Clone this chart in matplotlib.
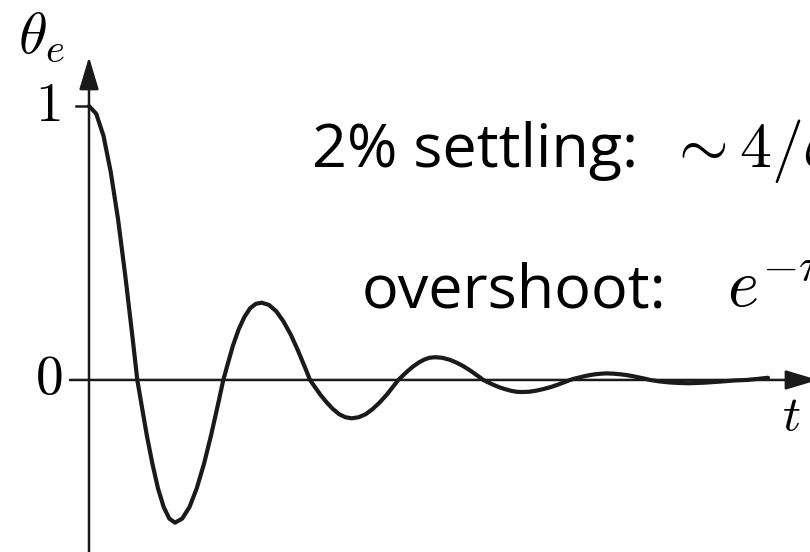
import matplotlib
matplotlib.use("Agg")
import matplotlib.pyplot as plt

plt.rcParams['mathtext.fontset'] = 'cm'
plt.rcParams['font.family'] = ['Open Sans', 'DejaVu Sans']

# damped response (t in arbitrary time units)
t = [0.0, 0.072, 0.145, 0.217, 0.290, 0.362, 0.435, 0.483,
     0.521, 0.577, 0.634, 0.690, 0.747, 0.803, 0.86,
     0.932, 1.005, 1.077, 1.150, 1.222, 1.295, 1.343,
     1.381, 1.439, 1.497, 1.554, 1.612, 1.669, 1.727,
     1.799, 1.872, 1.944, 2.017, 2.089, 2.162, 2.21,
     2.252, 2.314, 2.377, 2.439, 2.502, 2.564, 2.627,
     2.697, 2.767, 2.837, 2.907, 2.977, 3.046, 3.093,
     3.130, 3.185, 3.240, 3.295, 3.350, 3.405, 3.46,
     3.532, 3.605, 3.677, 3.750, 3.822, 3.895, 3.943,
     3.982, 4.040, 4.098, 4.156, 4.214, 4.272, 4.33,
     4.402, 4.474, 4.546, 4.618, 4.690, 4.762, 4.81,
     4.847, 4.902, 4.957, 5.012, 5.067, 5.122, 5.177,
     5.242, 5.307, 5.372, 5.437, 5.502, 5.567, 5.61,
     5.70, 5.80, 5.90, 6.0, 6.15, 6.31, 6.45, 6.577, 6.69, 6.79]
theta = [1.0, 0.972, 0.891, 0.760, 0.588, 0.383, 0.156, 0.0,
         -0.081, -0.200, -0.306, -0.396, -0.464, -0.506, -0.521,
         -0.506, -0.464, -0.396, -0.306, -0.200, -0.081, 0.0,
         0.050, 0.125, 0.185, 0.230, 0.262, 0.278, 0.282,
         0.274, 0.251, 0.214, 0.166, 0.108, 0.044, 0.0,
         -0.022, -0.054, -0.082, -0.106, -0.125, -0.136, -0.140,
         -0.136, -0.125, -0.106, -0.082, -0.054, -0.022, 0.0,
         0.013, 0.032, 0.049, 0.063, 0.074, 0.081, 0.083,
         0.081, 0.074, 0.063, 0.049, 0.032, 0.013, 0.0,
         -0.007, -0.017, -0.026, -0.033, -0.039, -0.043, -0.044,
         -0.043, -0.039, -0.033, -0.026, -0.017, -0.007, 0.0,
         0.004, 0.009, 0.014, 0.018, 0.021, 0.023, 0.024,
         0.023, 0.021, 0.018, 0.014, 0.009, 0.004, 0.0,
         -0.005, -0.009, -0.011, -0.012, -0.010, -0.006, -0.002, 0.0, 0.004, 0.008]

fig = plt.figure(figsize=(8.1, 5.52), dpi=100)
ax = fig.add_axes([0, 0, 1, 1])
ax.set_xlim(-0.89, 7.21)
ax.set_ylim(-0.628, 1.387)
ax.axis('off')

# axes with arrow heads
arrow = dict(arrowstyle='-|>,head_length=2.0,head_width=0.6', color='#1a1a1a',
             lw=1.8, mutation_scale=10, shrinkA=0, shrinkB=0)
ax.annotate('', xy=(7.29, 0), xytext=(-0.19, 0), arrowprops=arrow,
            annotation_clip=False)
ax.annotate('', xy=(0, 1.179), xytext=(0, -0.7), arrowprops=arrow,
            annotation_clip=False)
ax.plot([-0.13, 0], [1, 1], color='#1a1a1a', lw=1.8)

ax.plot(t, theta, color='#1a1a1a', lw=3.0, solid_capstyle='round',
        solid_joinstyle='round')

ax.text(-0.48, 1.25, r'$\theta_e$', fontsize=42, ha='center', va='center')
ax.text(-0.41, 1.0, r'$1$', fontsize=40, ha='center', va='center')
ax.text(-0.40, 0.0, r'$0$', fontsize=40, ha='center', va='center')
ax.text(7.02, -0.135, r'$t$', fontsize=36, ha='center', va='center')

ax.text(2.23, 0.777, '2% settling:', fontsize=44, ha='left', va='baseline')
ax.text(5.78, 0.777, r'$\sim 4/\zeta\omega_n$', fontsize=46, ha='left',
        va='baseline')
ax.text(2.73, 0.266, 'overshoot:', fontsize=44, ha='left', va='baseline')
ax.text(6.38, 0.266, r'$e^{-\pi\zeta/\sqrt{1-\zeta^2}}$', fontsize=48,
        ha='left', va='baseline')

fig.savefig('out.png', dpi=100, facecolor='white')
